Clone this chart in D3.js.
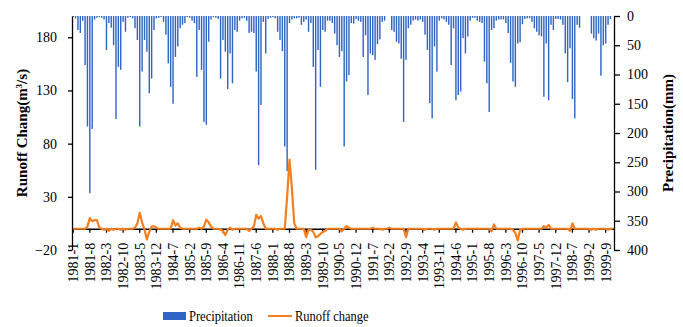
<!DOCTYPE html>
<html>
<head>
<meta charset="utf-8">
<script src="https://cdnjs.cloudflare.com/ajax/libs/d3/7.8.5/d3.min.js"></script>
<style>
  body { margin: 0; background: #fff; }
  svg { display: block; }
</style>
</head>
<body>
<div class="visHolder"></div>
<script>
// monthly categories 1981-1 .. 1999-12
const firstYear = 1981, lastYear = 1999;
const months = [];
for (let y = firstYear; y <= lastYear; y++) {
  for (let m = 1; m <= 12; m++) months.push(y + '-' + m);
}

const tickLabels = ['1981-1', '1981-8', '1982-3', '1982-10', '1983-5', '1983-12', '1984-7',
  '1985-2', '1985-9', '1986-4', '1986-11', '1987-6', '1988-1', '1988-8', '1989-3', '1989-10',
  '1990-5', '1990-12', '1991-7', '1992-2', '1992-9', '1993-4', '1993-11', '1994-6', '1995-1',
  '1995-8', '1996-3', '1996-10', '1997-5', '1997-12', '1998-7', '1999-2', '1999-9'];

const leftTicks = [-20, 30, 80, 130, 180];
const rightTicks = [0, 50, 100, 150, 200, 250, 300, 350, 400];

// precipitation (mm), one row per year Jan..Dec
const precipitation = [
  2, 4, 24, 29, 8, 84, 189, 303, 193, 6, 3, 2,        // 1981
  3, 6, 58, 12, 20, 50, 176, 87, 92, 10, 27, 3,       // 1982
  2, 4, 21, 41, 189, 95, 41, 61, 132, 107, 24, 4,     // 1983
  3, 2, 10, 32, 81, 121, 150, 70, 52, 21, 15, 12,     // 1984
  2, 3, 8, 12, 104, 24, 92, 181, 186, 44, 6, 2,       // 1985
  3, 5, 107, 41, 61, 125, 64, 115, 24, 27, 8, 4,      // 1986
  3, 8, 29, 27, 29, 95, 255, 152, 10, 64, 5, 3,       // 1987
  2, 4, 27, 41, 60, 223, 265, 12, 6, 4, 4, 3,         // 1988
  15, 10, 6, 27, 12, 87, 263, 58, 121, 24, 27, 8,     // 1989
  8, 12, 30, 50, 70, 60, 223, 112, 101, 12, 13, 5,    // 1990
  8, 10, 70, 33, 135, 64, 67, 75, 48, 40, 10, 8,      // 1991
  0, 0, 24, 27, 44, 47, 73, 181, 75, 21, 15, 8,       // 1992
  6, 8, 6, 10, 32, 58, 149, 175, 52, 95, 8, 4,        // 1993
  6, 10, 15, 84, 21, 144, 135, 129, 38, 64, 35, 8,    // 1994
  3, 3, 8, 10, 12, 78, 115, 164, 24, 21, 8, 6,        // 1995
  6, 6, 12, 29, 80, 112, 121, 47, 45, 14, 5, 4,       // 1996
  4, 10, 21, 27, 33, 35, 138, 47, 144, 15, 24, 5,     // 1997
  5, 6, 15, 64, 113, 55, 142, 175, 15, 20, 0, 0,      // 1998
  0, 0, 30, 38, 42, 30, 102, 50, 47, 15, 5, 0         // 1999
];

// runoff change (m3/s)
const runoffChange = [
  0, 0, 0, 0, 0, 0, 2, 10, 7, 8, 8, 1,                // 1981
  0, -1, 0, -2, 0, -1, 0, 0, -1, 0, -1, 0,            // 1982
  0, 0, 1, 5, 15, 6, -1, -10, -3, 2, 2.5, 1,          // 1983
  0, 0, 0, 0, 0, 0, 8, 3, 5, 1, 0, 0,                 // 1984
  0, 0, 0, 0, 0, 1, 0, 2, 8.5, 6, 2, 0,               // 1985
  0, 0, -1, -2, -6, -1, 1, -1, 0, 0, 0, 0,            // 1986
  0, 0, -2, 0, 2, 13, 9.5, 12, 5, 0, 0, 0,            // 1987
  0, 0, -1, 0, 0, 0, 30, 65, 38, 5, 0, 0,             // 1988
  0, 0, -8, -1, -1, -3, -8, -7, -5, -3, -2, 0,        // 1989
  0, 0, 0, 0, 0, -2.5, 0, 2.5, 1, 0, 0, 0,            // 1990
  0, 0, 0, 0, 0, 0, 1, 0, 0, 0, -1, 0,                // 1991
  0, 1, 0, 0, 0, 0, 0, 0, -8, 0, 0, 0,                // 1992
  0, 0, 0, 0, -1, 0, 0, 0, -1, 0, 0, 0,               // 1993
  0, 0, 0, 0, 0, 6, 1, 0, -1, 0, 0, 0,                // 1994
  0, 0, 0, 0, 0, 0, 0, 0, -2.5, 4, 0, 0,              // 1995
  0, 0, 0, 0, 0, -1, -4, -11, -1, 0, 0, 0,            // 1996
  0, 0, 0, 0, 0, 0, 2.5, 1, 3.6, 0, 0, 0,             // 1997
  0, 0, 0, 0, 0, -2, 5, 0, 0, 0, 0, 0,                // 1998
  0, 0, -1, 0, -1, 0, 0, 0, 0, -1, 0, 0               // 1999
];

const width = 683, height = 327;
const plotLeft = 72, plotRight = 614, plotTop = 16, plotBottom = 250;
const barColor = '#2f66c5', lineColor = '#f57f20';
const serif = '"Liberation Serif", "Times New Roman", serif';

const svg = d3.select('.visHolder')
  .append('svg')
  .attr('width', width)
  .attr('height', height)
  .attr('font-family', serif);

const xScale = d3.scaleBand()
  .domain(months)
  .range([plotLeft, plotRight]);

const yLeft = d3.scaleLinear()
  .domain([-20, 200])
  .range([plotBottom, plotTop]);

const yRight = d3.scaleLinear()
  .domain([0, 400])
  .range([plotTop, plotBottom]);

// precipitation bars hang from the top
svg.append('g')
  .selectAll('rect')
  .data(precipitation)
  .enter()
  .append('rect')
  .attr('x', (d, i) => xScale(months[i]) + xScale.bandwidth() * 0.2)
  .attr('y', yRight(0))
  .attr('width', xScale.bandwidth() * 0.6)
  .attr('height', d => yRight(d) - yRight(0))
  .attr('fill', barColor);

// left axis
const leftAxis = svg.append('g')
  .attr('transform', `translate(${plotLeft},0)`)
  .call(d3.axisLeft(yLeft).tickValues(leftTicks).tickSize(4).tickSizeOuter(0).tickPadding(11));

// right axis
const rightAxis = svg.append('g')
  .attr('transform', `translate(${plotRight},0)`)
  .call(d3.axisRight(yRight).tickValues(rightTicks).tickSize(6).tickSizeOuter(0).tickPadding(7));

// x axis sits on runoff = 0
const xAxis = svg.append('g')
  .attr('transform', `translate(0,${yLeft(0)})`)
  .call(d3.axisBottom(xScale).tickValues(tickLabels).tickSize(4).tickSizeOuter(0));

xAxis.selectAll('text')
  .attr('transform', 'rotate(-90)')
  .attr('x', -14)
  .attr('y', 0)
  .attr('dy', '0.35em')
  .style('text-anchor', 'end');

[leftAxis, rightAxis, xAxis].forEach(g => {
  g.attr('font-family', serif).attr('font-size', 14);
  g.selectAll('text').attr('fill', '#000');
  g.selectAll('path, line').attr('stroke', '#000').attr('stroke-width', 1.3);
});

// runoff change line
const line = d3.line()
  .x((d, i) => xScale(months[i]) + xScale.bandwidth() / 2)
  .y(d => yLeft(d));

svg.append('path')
  .datum(runoffChange)
  .attr('d', line)
  .attr('fill', 'none')
  .attr('stroke', lineColor)
  .attr('stroke-width', 2.2)
  .attr('stroke-linejoin', 'round');

// axis titles
const leftTitle = svg.append('text')
  .attr('transform', `translate(22,${(plotTop + plotBottom) / 2}) rotate(-90)`)
  .attr('text-anchor', 'middle')
  .attr('dy', '0.35em')
  .attr('font-weight', 'bold')
  .attr('font-size', 15)
  .text('Runoff Chang(m');
leftTitle.append('tspan').attr('baseline-shift', 'super').attr('font-size', 9).text('3');
leftTitle.append('tspan').text('/s)');

svg.append('text')
  .attr('transform', `translate(668,${(plotTop + plotBottom) / 2}) rotate(-90)`)
  .attr('text-anchor', 'middle')
  .attr('dy', '0.35em')
  .attr('font-weight', 'bold')
  .attr('font-size', 15)
  .text('Precipitation(mm)');

// legend (text slightly stretched vertically like the source)
const legend = svg.append('g').attr('font-size', 12.5);
legend.append('rect')
  .attr('x', 163).attr('y', 312).attr('width', 23).attr('height', 8)
  .attr('fill', barColor);
legend.append('text')
  .attr('transform', 'translate(189,321) scale(1,1.25)')
  .text('Precipitation');
legend.append('line')
  .attr('x1', 268).attr('x2', 292).attr('y1', 316).attr('y2', 316)
  .attr('stroke', lineColor).attr('stroke-width', 2);
legend.append('text')
  .attr('transform', 'translate(295,321) scale(1,1.25)')
  .text('Runoff change');
</script>
</body>
</html>
